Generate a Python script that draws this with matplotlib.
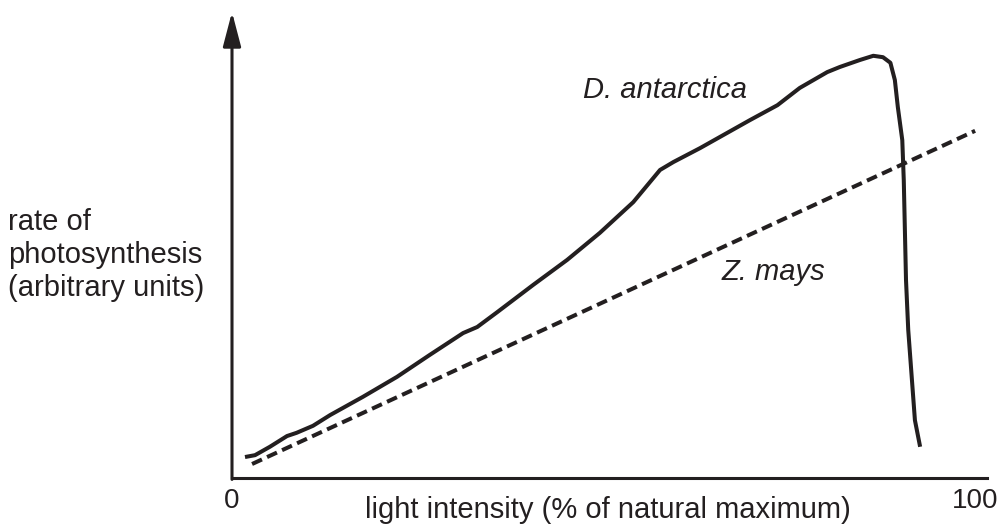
import numpy as np
import matplotlib
matplotlib.use("Agg")
import matplotlib.pyplot as plt

plt.rcParams['font.family'] = ['Liberation Sans', 'DejaVu Sans']

ink = '#231f20'

# D. antarctica curve (x = % of natural max light, y = arbitrary units)
dant_x = [1.75, 3.1, 5.1, 7.4, 8.7, 10.9, 13.2, 17.6, 22.2, 26.6, 31.1, 33.0,
          35.7, 40.5, 45.1, 49.5, 54.0, 57.6, 59.4, 63.0, 69.7, 73.4, 76.4,
          80.1, 81.8, 84.5, 86.3, 87.6, 88.6, 89.2, 89.6, 90.2, 90.4, 90.7,
          91.0, 91.5, 91.9, 92.6]
dant_y = [4.5, 4.9, 6.7, 9.0, 9.7, 11.2, 13.5, 17.4, 21.7, 26.4, 31.1, 32.4,
          35.6, 41.4, 46.8, 52.6, 59.2, 66.1, 67.8, 70.8, 76.8, 80.0, 83.7,
          87.1, 88.2, 89.7, 90.6, 90.3, 89.1, 85.4, 79.6, 72.5, 63.9, 42.5,
          31.8, 21.0, 12.4, 6.7]

# Z. mays straight dashed line
zmays_x = [2.7, 100]
zmays_y = [3.0, 74.5]

tick_pos = [0, 100]
tick_labels = ['0', '100']

fig = plt.figure(figsize=(10, 5.28), dpi=100)
ax = fig.add_axes([0.232, 0.0947, 0.755, 0.8826])
ax.set_xlim(0, 101.6)
ax.set_ylim(0, 100)

ax.plot(dant_x, dant_y, color=ink, lw=2.9, solid_capstyle='butt',
        solid_joinstyle='round')
ax.plot(zmays_x, zmays_y, color=ink, lw=2.9, dashes=(2.7, 1.4))

for s in ['top', 'right', 'left']:
    ax.spines[s].set_visible(False)
ax.spines['bottom'].set_linewidth(2.2)
ax.spines['bottom'].set_color(ink)

# y axis with arrow head
ax.annotate('', xy=(0, 100), xytext=(0, -0.3), xycoords='data',
            annotation_clip=False,
            arrowprops=dict(arrowstyle='-|>,head_length=2.1,head_width=0.55',
                            mutation_scale=10, lw=2.2, color=ink,
                            shrinkA=0, shrinkB=0))

ax.set_xticks(tick_pos)
ax.set_xticklabels(tick_labels, fontsize=20, color=ink)
ax.tick_params(axis='x', length=0, pad=7)
ax.set_yticks([])

ax.text(47.2, 83.3, 'D. antarctica', style='italic', fontsize=21, color=ink,
        ha='left', va='center')
ax.text(65.9, 44.2, 'Z. mays', style='italic', fontsize=21, color=ink,
        ha='left', va='center')

fig.text(0.608, 0.034, 'light intensity (% of natural maximum)', fontsize=21,
         color=ink, ha='center', va='center')
fig.text(0.008, 1 - 255 / 528, 'rate of\nphotosynthesis\n(arbitrary units)',
         fontsize=21, color=ink, ha='left', va='center', linespacing=1.25)

fig.savefig('out.png', dpi=100)
